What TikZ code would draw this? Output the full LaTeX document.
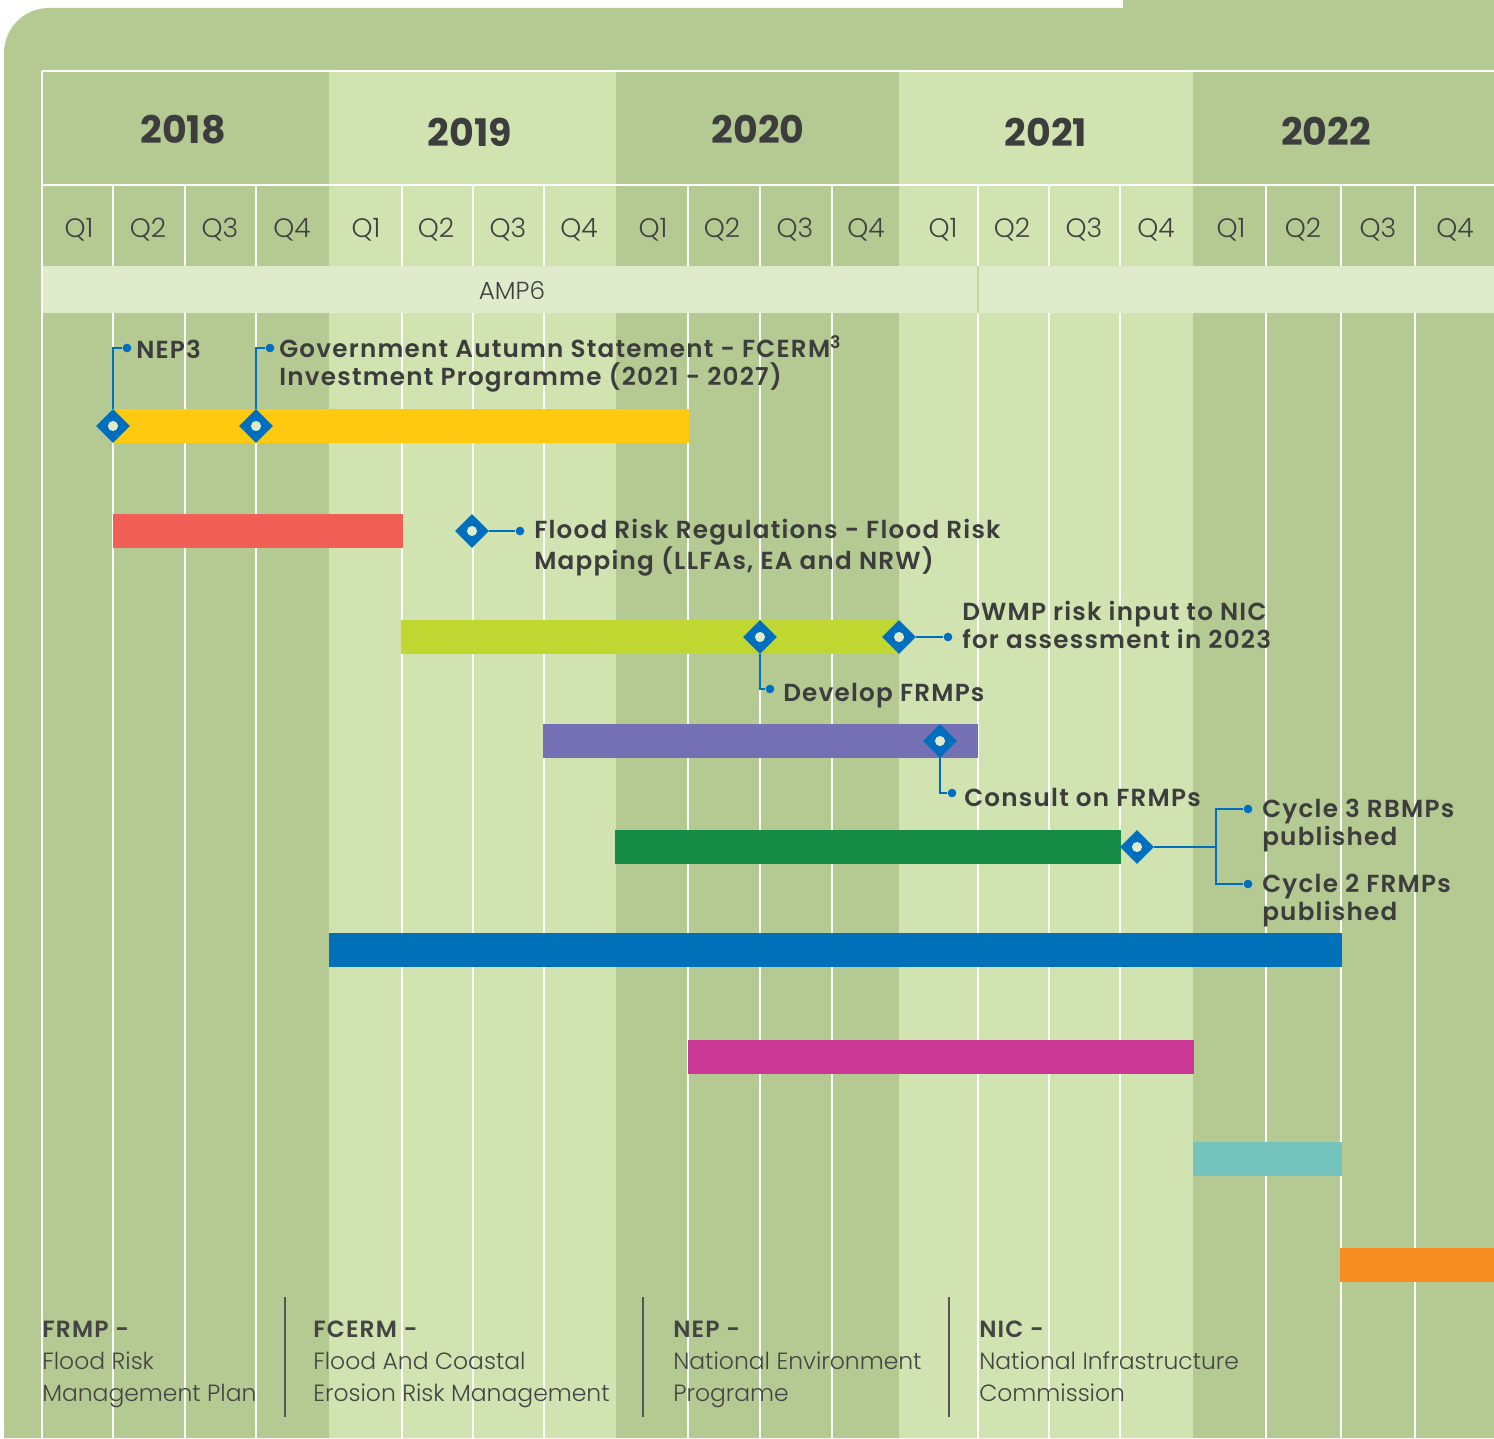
\documentclass[tikz,border=0pt]{standalone}
\usepackage{fontspec}
\setmainfont{Poppins}
\newfontfamily\semifont{Poppins SemiBold}[LetterSpace=5]
\newfontfamily\lightfont{Poppins Light}
\usetikzlibrary{shapes.geometric}

\begin{document}
\begin{tikzpicture}[x=0.75pt,y=0.75pt,yscale=-1,xscale=1,
	frame/.style={fill={rgb, 255:red, 181; green, 202; blue, 147 }},
	darkyear/.style={fill={rgb, 255:red, 181; green, 202; blue, 147 }},
	lightyear/.style={fill={rgb, 255:red, 208; green, 227; blue, 177 }},
	gridline/.style={draw=white, line width=1.4},
	yearlbl/.style={inner sep=0pt, text={rgb, 255:red, 61; green, 61; blue, 61 }, font=\bfseries\fontsize{28.5}{30}\selectfont},
	qlbl/.style={inner sep=0pt, text={rgb, 255:red, 64; green, 64; blue, 64 }, font=\lightfont\fontsize{20}{22}\selectfont},
	milestone/.style={diamond, fill={rgb, 255:red, 0; green, 110; blue, 190 }, inner sep=0pt, minimum width=25.5pt, minimum height=25.5pt,
		path picture={\fill[color={rgb, 255:red, 223; green, 235; blue, 203 }] (path picture bounding box.center) circle (3.8pt);}},
	dot/.style={circle, fill={rgb, 255:red, 0; green, 110; blue, 190 }, inner sep=0pt, minimum size=6.5pt},
	link/.style={draw={rgb, 255:red, 0; green, 110; blue, 190 }, line width=1.7},
	lbl/.style={anchor=west, align=left, inner sep=0pt, text={rgb, 255:red, 61; green, 61; blue, 61 }, font=\semifont\fontsize{18.5}{21}\selectfont},
	legend/.style={anchor=west, align=left, inner sep=0pt, text={rgb, 255:red, 68; green, 68; blue, 68 }, font=\lightfont\fontsize{17.6}{24}\selectfont}
]
\useasboundingbox (0,0) rectangle (1494,1438);
\fill[white] (0,0) rectangle (1494,1438);

%Shape: Frame
\fill [frame] (4,1438) -- (4,53) arc[start angle=180, end angle=270, radius=45] -- (1123,8) -- (1123,0) -- (1494,0) -- (1494,1438) -- cycle ;

%Shape: Year blocks
\fill [darkyear] (42,71) rectangle (329,1438) ;
\fill [lightyear] (329,71) rectangle (616,1438) ;
\fill [darkyear] (616,71) rectangle (899,1438) ;
\fill [lightyear] (899,71) rectangle (1193,1438) ;
\fill [darkyear] (1193,71) rectangle (1494,1438) ;

%Straight Lines: header rules
\draw [draw=white, line width=1.6] (42,71) -- (1494,71) ;
\draw [draw=white, line width=1.6] (42,185) -- (1494,185) ;
\draw [draw=white, line width=1.6] (42,71) -- (42,1438) ;

%Straight Lines: quarter rules
\draw [gridline] (113,185) -- (113,266) (113,313) -- (113,1438) ;
\draw [gridline] (185,185) -- (185,266) (185,313) -- (185,1438) ;
\draw [gridline] (256,185) -- (256,266) (256,313) -- (256,1438) ;
\draw [gridline] (402,185) -- (402,266) (402,313) -- (402,1438) ;
\draw [gridline] (473,185) -- (473,266) (473,313) -- (473,1438) ;
\draw [gridline] (544,185) -- (544,266) (544,313) -- (544,1438) ;
\draw [gridline] (688,185) -- (688,266) (688,313) -- (688,1438) ;
\draw [gridline] (760,185) -- (760,266) (760,313) -- (760,1438) ;
\draw [gridline] (832,185) -- (832,266) (832,313) -- (832,1438) ;
\draw [gridline] (978,185) -- (978,266) (978,313) -- (978,1438) ;
\draw [gridline] (1049,185) -- (1049,266) (1049,313) -- (1049,1438) ;
\draw [gridline] (1120,185) -- (1120,266) (1120,313) -- (1120,1438) ;
\draw [gridline] (1266,185) -- (1266,266) (1266,313) -- (1266,1438) ;
\draw [gridline] (1341,185) -- (1341,266) (1341,313) -- (1341,1438) ;
\draw [gridline] (1415,185) -- (1415,266) (1415,313) -- (1415,1438) ;

%Shape: AMP band
\fill [color={rgb, 255:red, 223; green, 235; blue, 203 }] (43,266) rectangle (1494,313) ;
\draw [color={rgb, 255:red, 190; green, 216; blue, 150 }, line width=1.5] (978,266) -- (978,313) ;

% Text Node
\draw (183,130) node [yearlbl] (y2018) {2018};
% Text Node
\draw (470,132) node [yearlbl] (y2019) {2019};
% Text Node
\draw (758,129) node [yearlbl] (y2020) {2020};
% Text Node
\draw (1046,132) node [yearlbl] (y2021) {2021};
% Text Node
\draw (1326,131) node [yearlbl] (y2022) {2022};

% Text Node
\draw (79,230) node [qlbl] (q18a) {Q1};
\draw (148,230) node [qlbl] (q18b) {Q2};
\draw (220,230) node [qlbl] (q18c) {Q3};
\draw (292,230) node [qlbl] (q18d) {Q4};
\draw (366,230) node [qlbl] (q19a) {Q1};
\draw (436,230) node [qlbl] (q19b) {Q2};
\draw (508,230) node [qlbl] (q19c) {Q3};
\draw (579,230) node [qlbl] (q19d) {Q4};
\draw (653,230) node [qlbl] (q20a) {Q1};
\draw (722,230) node [qlbl] (q20b) {Q2};
\draw (795,230) node [qlbl] (q20c) {Q3};
\draw (866,230) node [qlbl] (q20d) {Q4};
\draw (943,230) node [qlbl] (q21a) {Q1};
\draw (1012,230) node [qlbl] (q21b) {Q2};
\draw (1084,230) node [qlbl] (q21c) {Q3};
\draw (1156,230) node [qlbl] (q21d) {Q4};
\draw (1231,230) node [qlbl] (q22a) {Q1};
\draw (1303,230) node [qlbl] (q22b) {Q2};
\draw (1378,230) node [qlbl] (q22c) {Q3};
\draw (1455,230) node [qlbl] (q22d) {Q4};

% Text Node
\draw (512,291) node [qlbl, font=\lightfont\fontsize{18.5}{20}\selectfont] (amp6) {AMP6};

%Shape: Bars
\fill [color={rgb, 255:red, 254; green, 201; blue, 14 }] (113,409) rectangle (689,443) ;
\fill [color={rgb, 255:red, 240; green, 94; blue, 86 }] (113,514) rectangle (403,548) ;
\fill [color={rgb, 255:red, 191; green, 215; blue, 48 }] (401,620) rectangle (899,654) ;
\fill [color={rgb, 255:red, 117; green, 112; blue, 179 }] (543,724) rectangle (978,758) ;
\fill [color={rgb, 255:red, 21; green, 139; blue, 69 }] (615,830) rectangle (1121,864) ;
\fill [color={rgb, 255:red, 0; green, 112; blue, 185 }] (329,933) rectangle (1342,967) ;
\fill [color={rgb, 255:red, 203; green, 56; blue, 150 }] (688,1040) rectangle (1194,1074) ;
\fill [color={rgb, 255:red, 117; green, 195; blue, 189 }] (1193,1142) rectangle (1342,1176) ;
\fill [color={rgb, 255:red, 247; green, 141; blue, 32 }] (1340,1248) rectangle (1494,1282) ;

%Shape: Milestones
\draw (113,426) node [milestone] (ms1) {};
\draw (256,426) node [milestone] (ms2) {};
\draw (472,531) node [milestone] (ms3) {};
\draw (760,637) node [milestone] (ms4) {};
\draw (899,637) node [milestone] (ms5) {};
\draw (940,741) node [milestone] (ms6) {};
\draw (1137,847) node [milestone] (ms7) {};

%Shape: Dots
\draw (127,348) node [dot] (dt1) {};
\draw (270,348) node [dot] (dt2) {};
\draw (520,531) node [dot] (dt3) {};
\draw (770,689) node [dot] (dt4) {};
\draw (948,637) node [dot] (dt5) {};
\draw (952,793) node [dot] (dt6) {};
\draw (1248,809) node [dot] (dt7) {};
\draw (1248,884) node [dot] (dt8) {};
\coordinate (fork) at (1216,847);

% Text Node
\draw (136,349) node [lbl] (nep) {NEP3};
% Text Node
\draw (279,364) node [lbl] (gov) {Government Autumn Statement - FCERM\textsuperscript{3}\\Investment Programme (2021 - 2027)};
% Text Node
\draw (534,548) node [lbl] (frr) {Flood Risk Regulations - Flood Risk\\Mapping (LLFAs, EA and NRW)};
% Text Node
\draw (962,625) node [lbl] (dwmp) {DWMP risk input to NIC\\for assessment in 2023};
% Text Node
\draw (783,696) node [lbl] (dev) {Develop FRMPs};
% Text Node
\draw (964,797) node [lbl] (cons) {Consult on FRMPs};
% Text Node
\draw (1262,826) node [lbl] (cyc3) {Cycle 3 RBMPs\\published};
% Text Node
\draw (1262,901) node [lbl] (cyc2) {Cycle 2 FRMPs\\published};

%Straight Lines: milestone links
\draw [link] (ms1.north) |- (dt1) ;
\draw [link] (ms2.north) |- (dt2) ;
\draw [link] (ms3.east) -- (dt3) ;
\draw [link] (ms4.south) |- (dt4) ;
\draw [link] (ms5.east) -- (dt5) ;
\draw [link] (ms6.south) |- (dt6) ;
\draw [link] (ms7.east) -- (fork) ;
\draw [link] (dt7) -| (fork) |- (dt8) ;

%Straight Lines: legend rules
\draw [color={rgb, 255:red, 85; green, 85; blue, 85 }, line width=1.8] (285,1297) -- (285,1417) ;
\draw [color={rgb, 255:red, 85; green, 85; blue, 85 }, line width=1.8] (643,1297) -- (643,1417) ;
\draw [color={rgb, 255:red, 85; green, 85; blue, 85 }, line width=1.8] (949,1297) -- (949,1417) ;

% Text Node
\draw (42,1363) node [legend] (frmp) {{\semifont FRMP -}\strut\\Flood Risk\\Management Plan\strut};
% Text Node
\draw (313,1363) node [legend] (fcerm) {{\semifont FCERM -}\strut\\Flood And Coastal\\Erosion Risk Management\strut};
% Text Node
\draw (673,1363) node [legend] (nepkey) {{\semifont NEP -}\strut\\National Environment\\Programe\strut};
% Text Node
\draw (979,1363) node [legend] (nic) {{\semifont NIC -}\strut\\National Infrastructure\\Commission\strut};

\end{tikzpicture}
\end{document}
